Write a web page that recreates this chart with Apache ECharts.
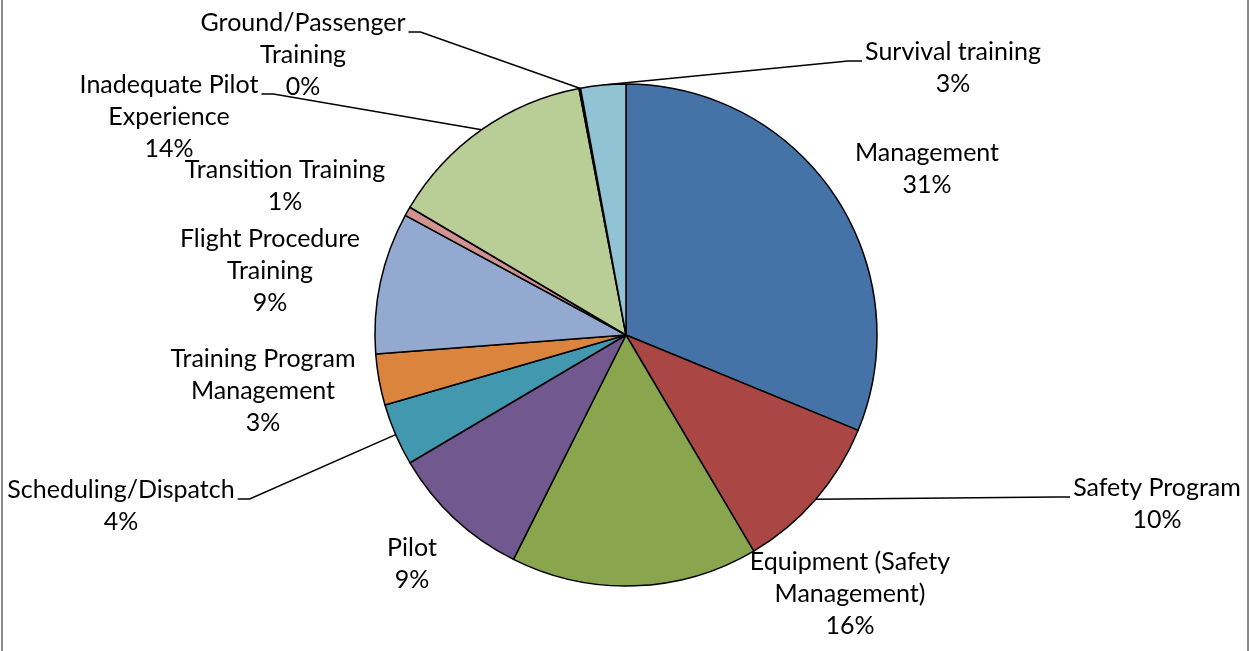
<!DOCTYPE html>
<html>
<head>
<meta charset="utf-8">
<title>Pie</title>
<script src="https://cdn.jsdelivr.net/npm/echarts@6/dist/echarts.min.js"></script>
<style>
  html, body { margin: 0; padding: 0; background: #fff; }
  #main { width: 1250px; height: 651px; }
</style>
</head>
<body>
<div id="main"></div>
<script>
// categories, clockwise from 12 o'clock
var categories = ['Management', 'Safety Program', 'Equipment (Safety\nManagement)', 'Pilot',
  'Scheduling/Dispatch', 'Training Program\nManagement', 'Flight Procedure\nTraining',
  'Transition Training', 'Inadequate Pilot\nExperience', 'Ground/Passenger\nTraining', 'Survival training'];
// share of each slice (percent)
var shares = [31.2, 10.3, 15.9, 9.1, 4.0, 3.3, 9.1, 0.6, 13.5, 0.1, 2.9];
var colors = ['#4572A7', '#AA4643', '#89A54E', '#71588F', '#4198AF', '#DB843D',
  '#93A9CF', '#D19392', '#B9CD96', '#A99BBD', '#91C3D5'];

// where each label sits (centre of text block), and which ones get a leader line
var labelPos = [[927, 169], [1157, 504], [850, 594], [412, 564], [121, 506], [263, 391],
  [270, 271], [285, 186], [169, 117], [303, 55], [953, 68]];
var hasLine = [false, true, false, false, true, false, false, false, true, true, true];

var chart = echarts.init(document.getElementById('main'));

var data = categories.map(function (name, i) {
  return {
    name: name,
    value: shares[i],
    itemStyle: { color: colors[i] },
    labelLine: { show: hasLine[i] }
  };
});

var option = {
  animation: false,
  graphic: [
    { type: 'rect', shape: { x: 1, y: 0, width: 2, height: 651 }, style: { fill: '#8c8c8c' } },
    { type: 'rect', shape: { x: 1247, y: 0, width: 2, height: 651 }, style: { fill: '#8c8c8c' } }
  ],
  series: [
    {
      type: 'pie',
      center: [626, 335],
      radius: 251,
      startAngle: 90,
      clockwise: true,
      avoidLabelOverlap: false,
      data: data,
      itemStyle: { borderColor: '#000', borderWidth: 1.5 },
      emphasis: { disabled: true },
      label: {
        show: true,
        position: 'outside',
        color: '#000',
        fontFamily: 'Lato',
        fontSize: 25,
        lineHeight: 32,
        align: 'center',
        formatter: function (p) {
          return p.name + '\n' + Math.round(p.percent) + '%';
        }
      },
      labelLine: {
        show: true,
        length: 10,
        length2: 10,
        lineStyle: { color: '#000', width: 1.5 }
      }
    }
  ]
};

option.series[0].labelLayout = function (params) {
  var i = params.dataIndex;
  var cx = labelPos[i][0], cy = labelPos[i][1];
  var w = params.labelRect.width, h = params.labelRect.height;
  var res = { x: cx, y: cy, align: 'center', verticalAlign: 'middle' };
  if (hasLine[i] && params.labelLinePoints) {
    var start = params.labelLinePoints[0];
    var top = cy - h / 2;
    var ly = top + 25;
    var end, bend;
    if (cx > 626) {
      end = [cx - w / 2 - 3, ly];
      bend = [end[0] - 14, ly];
    } else {
      end = [cx + w / 2 + 3, ly];
      bend = [end[0] + 12, ly];
    }
    res.labelLinePoints = [start, bend, end];
  }
  return res;
};

chart.setOption(option);
</script>
</body>
</html>
